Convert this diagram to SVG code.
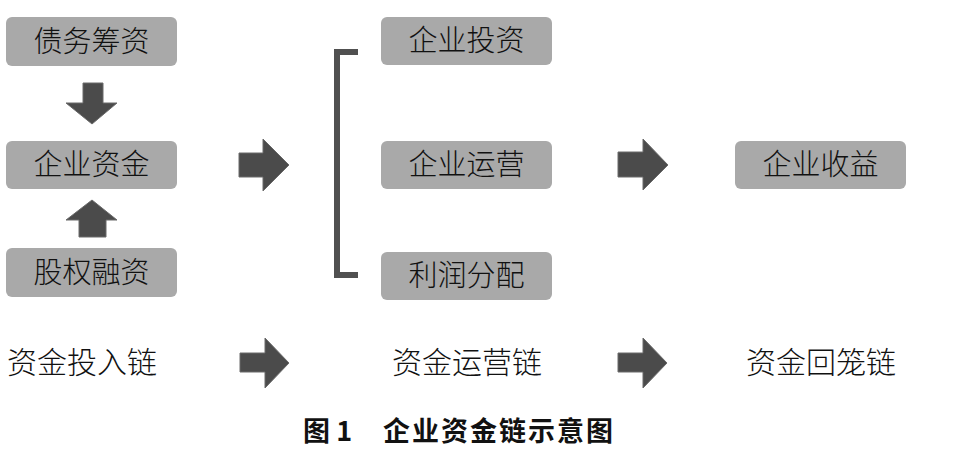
<svg xmlns="http://www.w3.org/2000/svg" width="958" height="452" viewBox="0 0 958 452">
<style>
.box{fill:#a9a9a9;}
.bt{font-family:"Noto Sans CJK SC","Noto Sans CJK JP",sans-serif;font-size:29px;font-weight:300;fill:#111;text-anchor:middle;}
.lt{font-family:"Noto Sans CJK SC","Noto Sans CJK JP",sans-serif;font-size:30px;font-weight:300;fill:#111;text-anchor:middle;}
.cap{font-family:"Noto Sans CJK SC","Noto Sans CJK JP",sans-serif;font-size:27px;font-weight:700;fill:#111;}
.arr{fill:#4b4b4b;stroke:#6a6a6a;stroke-width:1;}
.br{fill:none;stroke:#505050;stroke-width:6;}
</style>
<rect width="958" height="452" fill="#fff"/>
<g id="debt"><rect class="box" x="6" y="17" width="171" height="49" rx="6"/><text class="bt" x="91.5" y="51.5">债务筹资</text></g>
<g id="funds"><rect class="box" x="6" y="141" width="171" height="48" rx="6"/><text class="bt" x="91.5" y="175">企业资金</text></g>
<g id="equity"><rect class="box" x="6" y="248" width="171" height="49" rx="6"/><text class="bt" x="91.5" y="282.5">股权融资</text></g>
<g id="invest"><rect class="box" x="381" y="17" width="171" height="48" rx="6"/><text class="bt" x="466.5" y="51">企业投资</text></g>
<g id="operate"><rect class="box" x="381" y="141" width="171" height="48" rx="6"/><text class="bt" x="466.5" y="175">企业运营</text></g>
<g id="profit"><rect class="box" x="381" y="252" width="171" height="48" rx="6"/><text class="bt" x="466.5" y="286">利润分配</text></g>
<g id="income"><rect class="box" x="735" y="141" width="171" height="48" rx="6"/><text class="bt" x="820.5" y="175">企业收益</text></g>
<g id="labels">
<text class="lt" x="82" y="373">资金投入链</text>
<text class="lt" x="467" y="373">资金运营链</text>
<text class="lt" x="821" y="373">资金回笼链</text>
</g>
<g id="connectors">
<polygon class="arr" points="83,83 103,83 103,103 117,103 92,124 66,103 83,103"/>
<polygon class="arr" points="79,237 106,237 106,220 117,220 92,200 66,220 79,220"/>
<polygon class="arr" points="239,153 263,153 263,139 289,165 263,191 263,177 239,177"/>
<polygon class="arr" points="618,152 643,152 643,139 668,165 643,190 643,177 618,177"/>
<polygon class="arr" points="240,353 265,353 265,338 289,363 265,388 265,372 240,372"/>
<polygon class="arr" points="618,353 643,353 643,338 667,363 643,388 643,372 618,372"/>
<path class="br" d="M358,52 H337 V275 H358"/>
</g>
<g id="caption"><text class="cap" x="303" y="441">图 1</text><text class="cap" x="383" y="441" textLength="230">企业资金链示意图</text></g>
</svg>
